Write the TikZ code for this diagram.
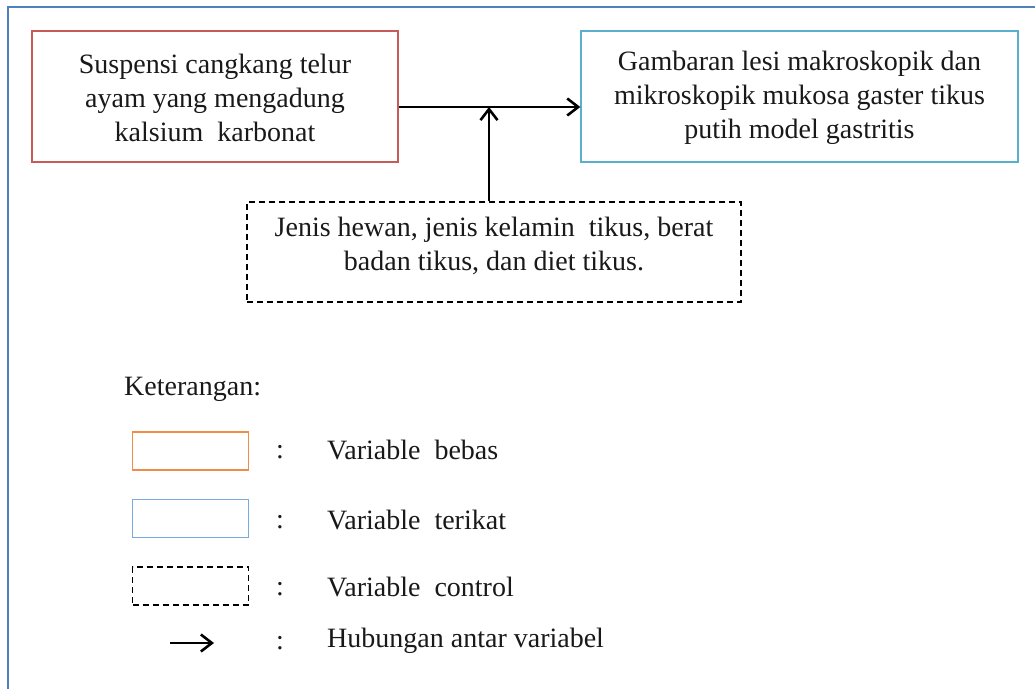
\documentclass[tikz,border=0pt]{standalone}
\usepackage{fontspec}
\setmainfont{Liberation Serif}
\newfontfamily\tnr{Liberation Serif}
\usetikzlibrary{arrows.meta}
\definecolor{frameblue}{RGB}{79,129,189}
\definecolor{boxred}{RGB}{200,90,90}
\definecolor{boxaqua}{RGB}{90,175,205}
\definecolor{legorange}{RGB}{240,140,70}
\definecolor{legblue}{RGB}{120,170,225}
\definecolor{ink}{RGB}{25,25,25}
\tikzset{
  box/.style={draw, rectangle, line width=1.3pt, inner sep=0pt},
  dashbox/.style={draw, rectangle, line width=1.3pt, inner sep=0pt, dash pattern=on 6pt off 4pt},
  txt/.style={align=center, inner sep=0pt, text=ink, font=\tnr\fontsize{28}{34}\selectfont},
  ltxt/.style={anchor=west, inner sep=0pt, text=ink, font=\tnr\fontsize{28}{34}\selectfont},
  conn/.style={line width=2.8pt, -{Straight Barb[length=11pt,width=17pt,line width=2.6pt]}},
}
\begin{document}
\begin{tikzpicture}[x=1pt,y=-1pt]
\useasboundingbox (0,0) rectangle (1035,688);
\clip (0,0) rectangle (1035,688);
% outer frame
\draw[frameblue, line width=1.6pt] (8,700) -- (8,7) -- (1045,7);
% main boxes
\node[box, draw=boxred, minimum width=366pt, minimum height=131pt] (red) at (215,96.5) {};
\node[txt] (redt) at (215,98) {Suspensi cangkang telur\\ayam yang mengadung\\kalsium\ \ karbonat};
\node[box, draw=boxaqua, minimum width=437pt, minimum height=131pt] (blue) at (799.5,96.5) {};
\node[txt] (bluet) at (799.5,98) {Gambaran lesi makroskopik dan\\mikroskopik mukosa gaster tikus\\putih model gastritis};
\node[dashbox, minimum width=494pt, minimum height=100pt] (ctrl) at (494,252) {};
\node[txt] (ctrlt) at (494,246) {Jenis hewan, jenis kelamin\ \ tikus, berat\\badan tikus, dan diet tikus.};
% connectors
\coordinate (j) at (489,107);
\draw[conn] ([yshift=-10.5pt]red.east) -- ([yshift=-10.5pt]blue.west);
\draw[conn] ([xshift=-5pt]ctrl.north) -- (j);
% legend
\node[ltxt] (ket) at (124,389) {Keterangan:};
\node[box, draw=legorange, minimum width=116pt, minimum height=38pt] (l1) at (190.5,451) {};
\node[box, draw=legblue, minimum width=116pt, minimum height=38pt] (l2) at (190.5,518.5) {};
\node[dashbox, minimum width=116pt, minimum height=38pt] (l3) at (190.5,586) {};
\coordinate (la1) at (170,643);
\coordinate (la2) at (214,643);
\draw[conn] (la1) -- (la2);
\node[ltxt] (c1) at (276,452) {:};
\node[ltxt] (c2) at (276,522) {:};
\node[ltxt] (c3) at (276,589) {:};
\node[ltxt] (c4) at (276,643) {:};
\node[ltxt] (t1) at (327,450) {Variable\ \ bebas};
\node[ltxt] (t2) at (327,520) {Variable\ \ terikat};
\node[ltxt] (t3) at (327,587) {Variable\ \ control};
\node[ltxt] (t4) at (327,641) {Hubungan antar variabel};
\end{tikzpicture}
\end{document}
